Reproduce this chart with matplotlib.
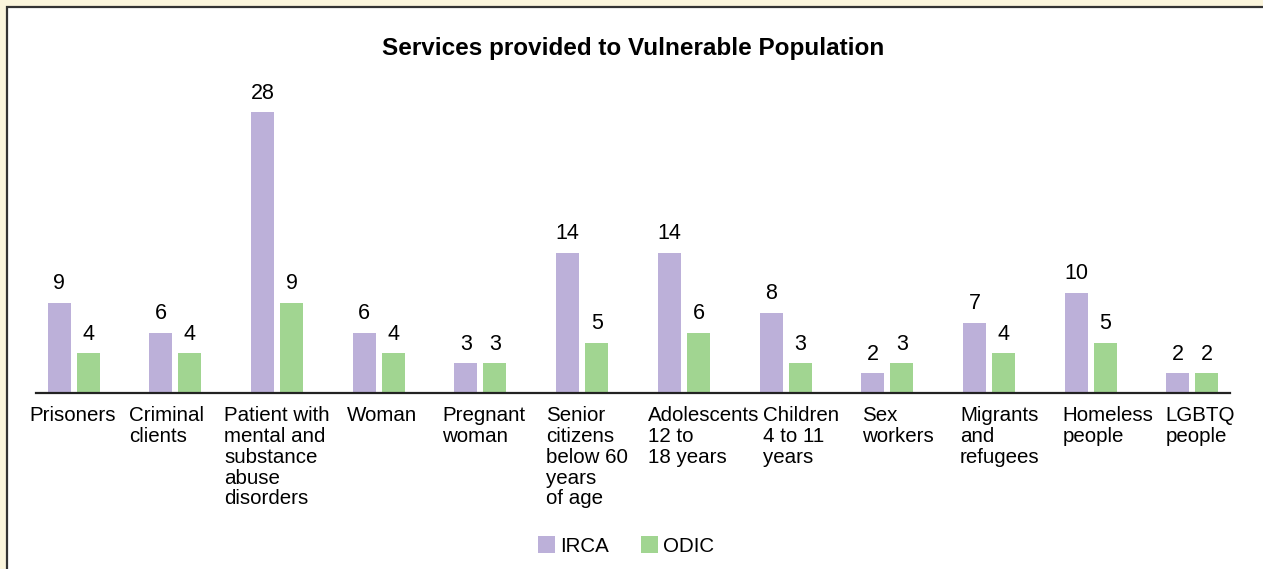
import numpy as np
import matplotlib
matplotlib.use("Agg")
import matplotlib.pyplot as plt
from matplotlib.patches import Rectangle

plt.rcParams['font.family'] = ['Liberation Sans', 'DejaVu Sans']

categories = ['Prisoners', 'Criminal\nclients', 'Patient with\nmental and\nsubstance\nabuse\ndisorders',
              'Woman', 'Pregnant\nwoman', 'Senior\ncitizens\nbelow 60\nyears\nof age',
              'Adolescents\n12 to\n18 years', 'Children\n4 to 11\nyears', 'Sex\nworkers',
              'Migrants\nand\nrefugees', 'Homeless\npeople', 'LGBTQ\npeople']
irca = [9, 6, 28, 6, 3, 14, 14, 8, 2, 7, 10, 2]
odic = [4, 4, 9, 4, 3, 5, 6, 3, 3, 4, 5, 2]
series_names = ['IRCA', 'ODIC']
colors = ['#BCB0D9', '#A1D591']

# left edge of each category label relative to the group centre (pixels)
label_dx = [-44, -46, -53, -32, -38, -36, -36, -23, -25, -29, -28, -27]

W, H = 1263, 569
fig = plt.figure(figsize=(W / 100, H / 100), dpi=100, facecolor='#FBF5DC')

# white panel with dark border
fig.patches.append(Rectangle((7 / W, -0.1), 1.1, 1 - 7 / H + 0.1, transform=fig.transFigure,
                             facecolor='white', edgecolor='#333333', linewidth=1.6, zorder=-10))

ax = fig.add_axes([36 / W, (H - 393) / H, 1194 / W, 281 / H])
ax.set_facecolor('none')
ax.set_zorder(5)

x = np.arange(len(categories))
bw = 0.226
off = 0.143
b1 = ax.bar(x - off, irca, bw, color=colors[0], label=series_names[0])
b2 = ax.bar(x + off, odic, bw, color=colors[1], label=series_names[1])

for bars, vals in [(b1, irca), (b2, odic)]:
    for rect, v in zip(bars, vals):
        ax.annotate(str(v), (rect.get_x() + rect.get_width() / 2, rect.get_height()),
                    xytext=(0, 6), textcoords='offset points', ha='center', va='bottom',
                    fontsize=15.5, annotation_clip=False)

ax.set_xlim(-0.37, len(categories) - 1 + 0.37)
ax.set_ylim(0, 28)
for s in ['top', 'right', 'left']:
    ax.spines[s].set_visible(False)
ax.spines['bottom'].set_color('#222222')
ax.spines['bottom'].set_linewidth(1.6)
ax.set_yticks([])
ax.set_xticks([])

for i, (lab, dx) in enumerate(zip(categories, label_dx)):
    ax.annotate(lab, (i, 0), xycoords=ax.get_xaxis_transform(),
                xytext=(dx * 0.72, -9.5), textcoords='offset points',
                ha='left', va='top', fontsize=14.8, linespacing=1.12, annotation_clip=False)

fig.text(633 / W, 1 - 49 / H, 'Services provided to Vulnerable Population', ha='center', va='center',
         fontsize=17.5, fontweight='bold', zorder=6)

leg = fig.legend(handles=[b1, b2], loc='center', bbox_to_anchor=(626 / W, 1 - 546 / H), ncol=2,
                 frameon=False, fontsize=14.8, handlelength=0.83, handleheight=0.83, handletextpad=0.25,
                 columnspacing=1.55)
leg.set_zorder(6)

fig.savefig('out.png', dpi=100, facecolor=fig.get_facecolor())
